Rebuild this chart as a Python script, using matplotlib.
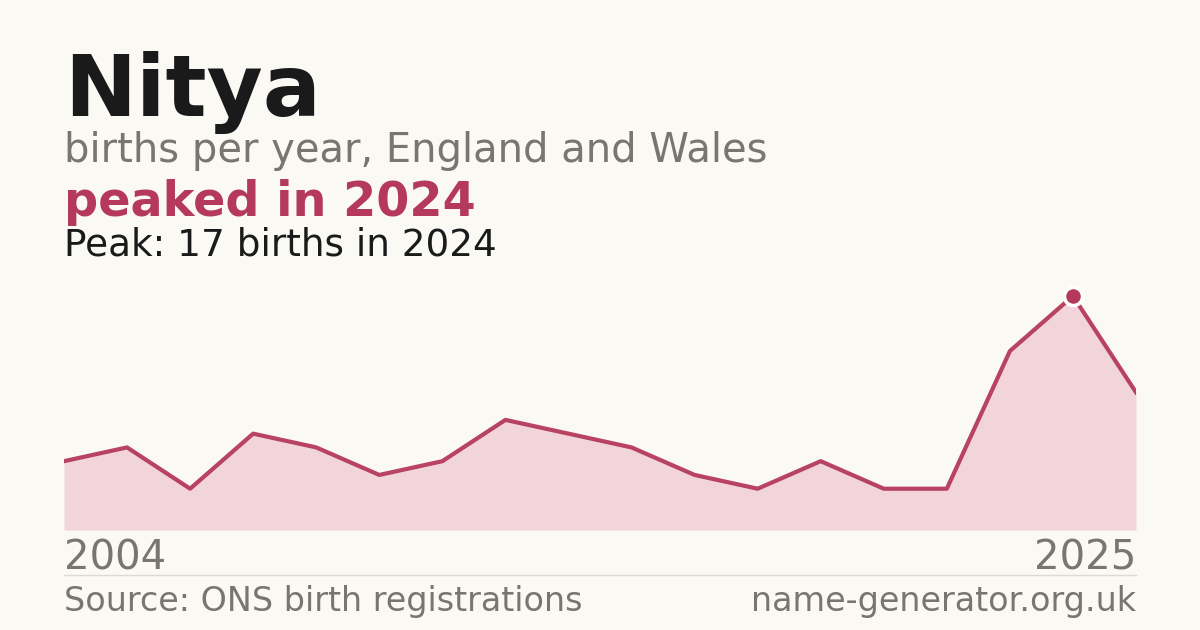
import matplotlib
matplotlib.use("Agg")
import matplotlib.pyplot as plt

# data: births per year (years with fewer than 3 births are not published)
years = [2004, 2006, 2007, 2009, 2010, 2011, 2012, 2013, 2014, 2015,
         2016, 2017, 2018, 2019, 2021, 2023, 2024, 2025]
births = [5, 6, 3, 7, 6, 4, 5, 8, 7, 6, 4, 3, 5, 3, 3, 13, 17, 10]
peak_year = 2024
peak_value = 17

name = "Nitya"
subtitle = "births per year, England and Wales"
headline = "peaked in 2024"
detail = "Peak: 17 births in 2024"
source = "Source: ONS birth registrations"
site = "name-generator.org.uk"

BG = "#faf9f4"
RED = "#b5395a"
FILL = "#f1d5db"
GREY = "#7a756e"
INK = "#1a1a1a"

W, H = 1200, 630
fig = plt.figure(figsize=(W / 100, H / 100), dpi=100, facecolor=BG)


def fy(py):
    return 1 - py / H


fig.text(64 / W, fy(116), name, fontsize=62, fontweight="bold", color=INK, va="baseline")
fig.text(64 / W, fy(162), subtitle, fontsize=28.8, color=GREY, va="baseline")
fig.text(64 / W, fy(216), headline, fontsize=34.4, fontweight="bold", color=RED, va="baseline")
fig.text(64 / W, fy(256), detail, fontsize=26.9, color=INK, va="baseline")

ax = fig.add_axes([64 / W, (H - 530) / H, 1072 / W, 234 / H])
ax.set_facecolor(BG)
xs = list(range(len(births)))
ax.fill_between(xs, births, 0, color=FILL, lw=0)
ax.plot(xs, births, color=RED, lw=3, alpha=0.95)
pi = years.index(peak_year)
ax.plot([xs[pi]], [peak_value], "o", ms=13, color=RED, mec="white", mew=2.5, clip_on=False, zorder=5)
ax.set_xlim(0, len(births) - 1)
ax.set_ylim(0, peak_value)
ax.axis("off")

fig.text(64 / W, fy(570), str(years[0]), fontsize=28.9, color=GREY, va="baseline")
fig.text(1136 / W, fy(570), str(years[-1]), fontsize=28.9, color=GREY, va="baseline", ha="right")
fig.add_artist(plt.Line2D([64 / W, 1136 / W], [fy(574.5), fy(574.5)], color="#dddad3", lw=1))
fig.text(64 / W, fy(611), source, fontsize=24, color=GREY, va="baseline")
fig.text(1136 / W, fy(611), site, fontsize=24, color=GREY, va="baseline", ha="right")

fig.savefig("out.png", dpi=100, facecolor=BG)
